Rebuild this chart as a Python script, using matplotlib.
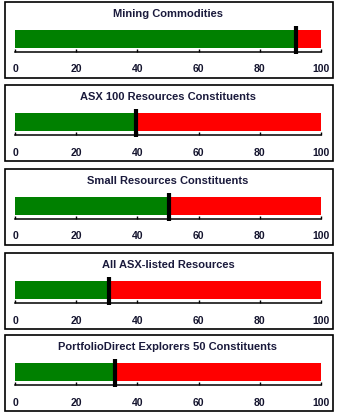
import matplotlib
matplotlib.use("Agg")
from matplotlib import pyplot as plt
from matplotlib.patches import Rectangle

plt.rcParams['font.family'] = ['Liberation Sans', 'DejaVu Sans']

# panel titles and the green share (out of 100)
titles = ["Mining Commodities",
          "ASX 100 Resources Constituents",
          "Small Resources Constituents",
          "All ASX-listed Resources",
          "PortfolioDirect Explorers 50 Constituents"]
values = [91.8, 39.6, 50.3, 30.8, 32.6]
ticks = [0, 20, 40, 60, 80, 100]

W, H = 337, 417
fig = plt.figure(figsize=(W/100, H/100), dpi=100)

#top edge of each panel box, in pixels
tops = [2, 85, 169, 253, 335]
box_h = 76
x0, x1 = 15, 321

def fx(px):
    return px/W
def fy(py):
    return 1-py/H

for t, title, val in zip(tops, titles, values):
    #panel border
    fig.patches.append(Rectangle((fx(4.5), fy(t+box_h)), fx(333)-fx(4.5), fy(t)-fy(t+box_h),
                                 transform=fig.transFigure, fill=False,
                                 edgecolor='black', linewidth=1.2))
    fig.text(fx((x0+x1)/2), fy(t+12), title, ha='center', va='center',
             fontsize=8, fontweight='bold', color='#1a1a3c')

    ax = fig.add_axes([fx(x0), fy(t+50), fx(x1)-fx(x0), fy(t+20)-fy(t+50)])
    ax.set_xlim(0, 100)
    ax.set_ylim(50, 20)
    ax.barh(37, val, height=18, left=0, color='#008000')
    ax.barh(37, 100-val, height=18, left=val, color='#ff0000')
    ax.vlines(val, 24, 52, color='black', linewidth=3, clip_on=False, zorder=5)

    for s in ['top', 'left', 'right']:
        ax.spines[s].set_visible(False)
    ax.spines['bottom'].set_linewidth(1.1)
    ax.set_yticks([])
    ax.set_xticks(ticks)
    ax.tick_params(axis='x', direction='in', length=2.5, width=1, pad=9,
                   labelsize=7.5, labelcolor='#14142e')
    for lab in ax.get_xticklabels():
        lab.set_fontweight('bold')
    ax.patch.set_visible(False)

fig.savefig("out.png", dpi=100)
